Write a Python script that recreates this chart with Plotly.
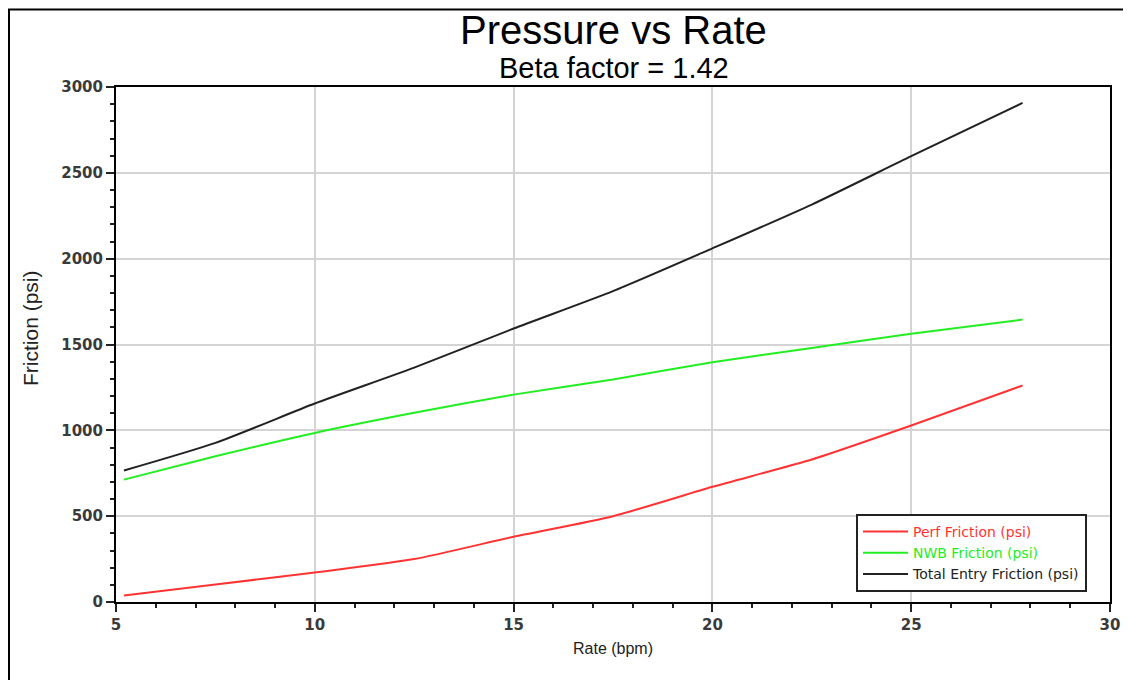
import plotly.graph_objects as go

rate = [5.2, 7.5, 10, 12.5, 15, 17.5, 20, 22.5, 25, 27.8]
perf = [38, 102, 172, 250, 380, 500, 671, 830, 1028, 1261]
nwb = [713, 849, 985, 1102, 1208, 1296, 1397, 1480, 1562, 1645]
total = [766, 927, 1156, 1365, 1593, 1811, 2060, 2315, 2597, 2907]

names = ["Perf Friction (psi)", "NWB Friction (psi)", "Total Entry Friction (psi)"]
colors = ["#ff3333", "#22ee22", "#222222"]
series = [perf, nwb, total]

fig = go.Figure()
for nm, col, ys in zip(names, colors, series):
    fig.add_trace(go.Scatter(
        x=rate, y=ys, mode="lines", line=dict(color=col, width=2, shape="spline", smoothing=0.6),
        name=f"<span style='color:{col}'>{nm}</span>",
    ))

# page body has an 8px margin: work in reference-pixel coords, shifted by OFF
OFF = 8
W, H = 1131 - OFF, 680 - OFF
PL, PR, PT, PB = 116, 1110, 87, 602  # plot area in reference pixels
L, R, T, B = PL - OFF, W - (PR - OFF), PT - OFF, H - (PB - OFF)
pw, ph = W - L - R, H - T - B

def px(x):
    return (x - OFF - L) / pw

def py(y):
    return (H - B - (y - OFF)) / ph

axis_common = dict(
    showline=True, linecolor="black", linewidth=2, mirror=True,
    showgrid=True, gridcolor="#d4d4d4", gridwidth=2, zeroline=False,
    ticks="outside", ticklen=8, tickwidth=2, tickcolor="#222",
    tickfont=dict(family="DejaVu Sans", size=15, color="#3a3a3a", weight="bold"),
)

fig.update_xaxes(range=[5, 30], dtick=5, tick0=5,
                 minor=dict(dtick=1, ticks="outside", ticklen=4, tickwidth=2, tickcolor="#222", showgrid=False),
                 **axis_common)
fig.update_yaxes(range=[0, 3000], dtick=500,
                 minor=dict(dtick=100, ticks="outside", ticklen=4, tickwidth=2, tickcolor="#222", showgrid=False),
                 **axis_common)

fig.update_layout(
    width=W, height=H,
    margin=dict(l=L, r=R, t=T, b=B),
    paper_bgcolor="white", plot_bgcolor="white",
    showlegend=True,
    legend=dict(
        x=px(1087), y=py(592), xanchor="right", yanchor="bottom",
        bgcolor="white", bordercolor="#222", borderwidth=2,
        font=dict(family="DejaVu Sans", size=14, color="#222"),
        tracegroupgap=0, itemwidth=45,
    ),
    annotations=[
        dict(text="Pressure vs Rate", x=px(613), y=py(30), xref="paper", yref="paper",
             showarrow=False, font=dict(family="Liberation Sans", size=40, color="black"),
             xanchor="center", yanchor="middle"),
        dict(text="Beta factor = 1.42", x=px(614), y=py(68), xref="paper", yref="paper",
             showarrow=False, font=dict(family="Liberation Sans", size=29, color="black"),
             xanchor="center", yanchor="middle"),
        dict(text="Rate (bpm)", x=px(613), y=py(648), xref="paper", yref="paper",
             showarrow=False, font=dict(family="Liberation Sans", size=16, color="#222"),
             xanchor="center", yanchor="middle"),
        dict(text="Friction (psi)", x=px(30), y=py(328), xref="paper", yref="paper",
             showarrow=False, textangle=-90, font=dict(family="Liberation Sans", size=21, color="#222"),
             xanchor="center", yanchor="middle"),
    ],
    shapes=[
        dict(type="line", xref="paper", yref="paper", x0=px(9), x1=px(9), y0=py(9), y1=py(690),
             line=dict(color="black", width=2)),
        dict(type="line", xref="paper", yref="paper", x0=px(8), x1=px(1140), y0=py(9.5), y1=py(9.5),
             line=dict(color="black", width=2)),
        dict(type="line", xref="paper", yref="paper", x0=px(1126), x1=px(1126), y0=py(9), y1=py(690),
             line=dict(color="#d8d8d8", width=2)),
    ],
)

fig.write_html("out.html")
